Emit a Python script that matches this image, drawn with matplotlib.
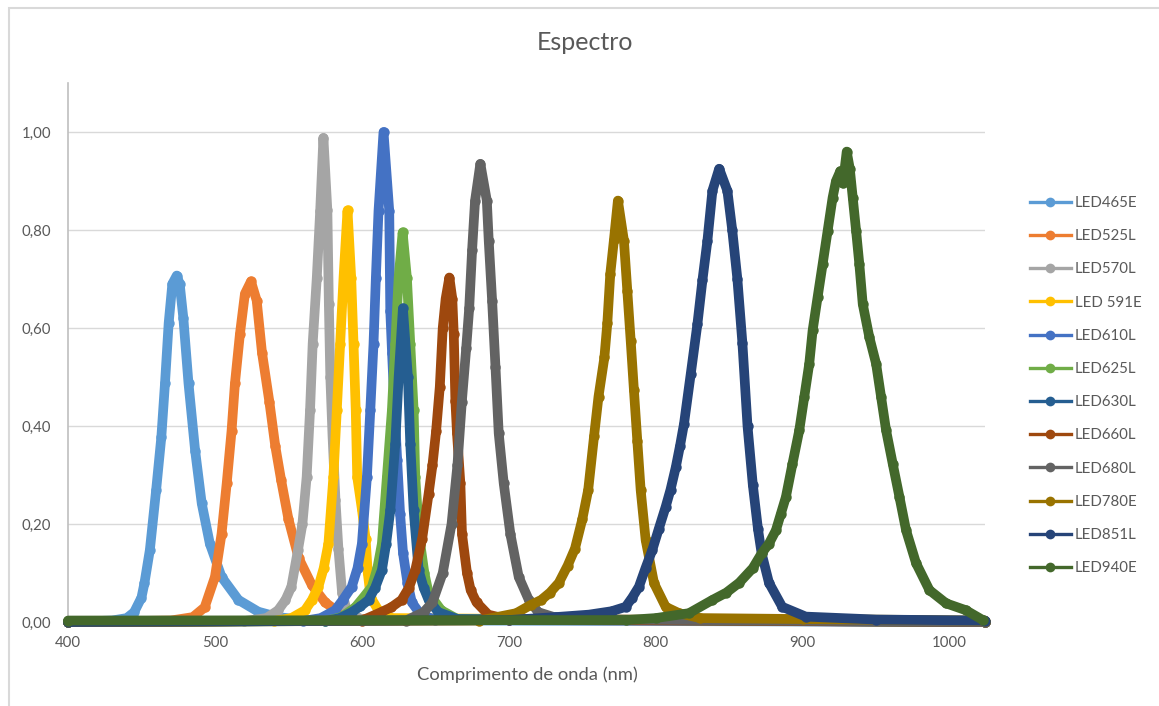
import matplotlib
matplotlib.use('Agg')
import matplotlib.pyplot as plt
from matplotlib.lines import Line2D
from matplotlib.patches import Rectangle
from matplotlib.ticker import FuncFormatter

plt.rcParams['font.family'] = ['Lato', 'DejaVu Sans']

# wavelength (nm) / normalised intensity
wl_465 = [400, 430, 440, 445, 450, 452, 455.7, 460, 463.5, 466, 468.5, 471, 474, 476, 478.5, 482,
          486.5, 491, 496.5, 504.5, 516, 529.5, 543, 560, 1024]
in_465 = [0.0, 0.003, 0.008, 0.02, 0.05, 0.079, 0.147, 0.27, 0.377, 0.487, 0.61, 0.69, 0.707, 0.69,
          0.62, 0.487, 0.35, 0.242, 0.16, 0.092, 0.045, 0.021, 0.01, 0.004, 0.0]

wl_525 = [400, 470, 485, 493, 500, 504.5, 508, 511.3, 513.6, 517, 520.4, 524.5, 528.4, 532, 537,
          541, 545, 550, 557, 566, 575, 585, 600, 1024]
in_525 = [0.0, 0.003, 0.01, 0.03, 0.092, 0.18, 0.283, 0.39, 0.487, 0.588, 0.67, 0.695, 0.656, 0.55,
          0.45, 0.36, 0.29, 0.21, 0.13, 0.075, 0.04, 0.018, 0.006, 0.0]

wl_570 = [400, 520, 535, 543, 548, 552, 556.5, 559.5, 562.4, 564.7, 566.5, 569.3, 571.6, 573.8,
          576.5, 577.5, 578.5, 580, 582, 584, 586.5, 590, 600, 1024]
in_570 = [0.0, 0.002, 0.008, 0.024, 0.045, 0.072, 0.147, 0.2, 0.296, 0.432, 0.568, 0.703, 0.839,
          0.988, 0.84, 0.65, 0.5, 0.38, 0.25, 0.15, 0.06, 0.02, 0.005, 0.0]

wl_591 = [400, 540, 552, 561.3, 566, 570.4, 574, 577.2, 580.6, 582.9, 585.2, 587.5, 590.2, 592.7,
          594.3, 595.8, 596.8, 600, 602.5, 604, 606, 611, 620, 1024]
in_591 = [0.0, 0.002, 0.008, 0.024, 0.045, 0.072, 0.11, 0.16, 0.296, 0.432, 0.568, 0.703, 0.84,
          0.703, 0.568, 0.432, 0.296, 0.23, 0.17, 0.1, 0.05, 0.025, 0.008, 0.0]

wl_610 = [400, 560, 572, 581.8, 587, 593.1, 597, 600, 603.4, 605.7, 607.9, 609.5, 611.3, 614.7,
          618.6, 619.3, 620.5, 622, 624, 626, 628, 631, 634, 640, 650, 1024]
in_610 = [0.0, 0.002, 0.008, 0.024, 0.045, 0.072, 0.11, 0.16, 0.296, 0.432, 0.568, 0.703, 0.839,
          1.0, 0.839, 0.635, 0.55, 0.45, 0.33, 0.22, 0.14, 0.08, 0.04, 0.015, 0.005, 0.0]

wl_625 = [400, 575, 586, 595.5, 601, 606.8, 610.5, 613.6, 617, 620.4, 622.7, 625, 627.7, 630.6,
          632.9, 635.2, 636.3, 638, 639.7, 642.5, 645.4, 654, 665, 1024]
in_625 = [0.0, 0.002, 0.01, 0.03, 0.05, 0.072, 0.11, 0.16, 0.296, 0.432, 0.568, 0.703, 0.795,
          0.703, 0.568, 0.432, 0.296, 0.22, 0.16, 0.1, 0.059, 0.024, 0.006, 0.0]

wl_630 = [400, 575, 585, 593, 599, 604.5, 609, 613.6, 616.5, 619.3, 622.7, 625, 627.9, 631.3,
          632.9, 635.2, 638.6, 642, 645.4, 652, 665, 1024]
in_630 = [0.0, 0.002, 0.008, 0.02, 0.032, 0.045, 0.07, 0.106, 0.16, 0.228, 0.364, 0.5, 0.64, 0.5,
          0.364, 0.228, 0.106, 0.07, 0.045, 0.02, 0.006, 0.0]

wl_660 = [400, 600, 613, 620, 627, 632, 636.3, 641, 645.4, 648, 650.5, 653, 655, 657, 659.5,
          661.5, 662.5, 663.6, 664.7, 667, 668.1, 671.5, 674, 678, 686, 700, 1024]
in_660 = [0.0, 0.003, 0.02, 0.03, 0.045, 0.07, 0.106, 0.17, 0.262, 0.32, 0.39, 0.48, 0.6, 0.66,
          0.703, 0.66, 0.588, 0.452, 0.385, 0.283, 0.18, 0.1, 0.065, 0.04, 0.015, 0.005, 0.0]

wl_680 = [400, 630, 642, 648, 655, 661, 665, 668, 671, 673, 675, 677, 680.6, 685, 686.3, 688.6,
          690.9, 693.1, 696.5, 701, 706.7, 713.6, 720, 735, 1024]
in_680 = [0.0, 0.003, 0.02, 0.04, 0.1, 0.2, 0.32, 0.45, 0.56, 0.64, 0.76, 0.86, 0.935, 0.86,
          0.778, 0.656, 0.52, 0.385, 0.283, 0.18, 0.092, 0.045, 0.02, 0.006, 0.0]

wl_780 = [400, 680, 705, 715, 722, 728, 734, 740, 745, 750, 754, 758, 761, 765, 767, 769, 771.5,
          774.2, 778.3, 780.6, 782.9, 785.1, 787.4, 789.7, 793.1, 798.8, 806.7, 815.8, 830, 900, 1024]
in_780 = [0.0, 0.003, 0.018, 0.035, 0.045, 0.06, 0.08, 0.115, 0.15, 0.21, 0.27, 0.38, 0.46, 0.54,
          0.61, 0.71, 0.78, 0.86, 0.778, 0.676, 0.574, 0.473, 0.37, 0.269, 0.167, 0.079, 0.031,
          0.018, 0.008, 0.006, 0.003]

wl_851 = [400, 700, 731.8, 754.5, 770, 779.5, 784, 788.5, 793, 797.6, 802, 806.7, 810, 813.6,
          816.5, 819.2, 823.8, 828.3, 831.7, 835.1, 838.5, 843.1, 848.7, 852, 855.5, 858.9, 862.4,
          866, 869.5, 872, 877, 886, 902, 950, 1024]
in_851 = [0.0, 0.004, 0.01, 0.015, 0.022, 0.031, 0.05, 0.072, 0.11, 0.147, 0.19, 0.235, 0.27,
          0.316, 0.36, 0.405, 0.507, 0.608, 0.697, 0.778, 0.88, 0.925, 0.88, 0.8, 0.7, 0.57, 0.4,
          0.28, 0.19, 0.14, 0.08, 0.031, 0.011, 0.005, 0.003]

wl_940 = [400, 780, 800, 822.6, 838.5, 848, 856.7, 866, 872, 877, 881.7, 885, 888.5, 893, 897.6,
          901, 904.4, 906.7, 910.1, 913.5, 916.9, 920.3, 922.6, 925.5, 927.3, 929.9, 932, 934,
          936.3, 938.5, 940.8, 945.3, 949.9, 953.3, 956.7, 961.2, 965.8, 970.3, 977.1, 986.2,
          997.6, 1011, 1022.5]
in_940 = [0.003, 0.004, 0.008, 0.018, 0.045, 0.06, 0.08, 0.11, 0.14, 0.16, 0.187, 0.22, 0.255,
          0.323, 0.391, 0.459, 0.527, 0.595, 0.663, 0.73, 0.798, 0.866, 0.9, 0.92, 0.895, 0.96,
          0.925, 0.866, 0.798, 0.73, 0.649, 0.581, 0.527, 0.459, 0.391, 0.323, 0.255, 0.187, 0.12,
          0.065, 0.038, 0.024, 0.004]

labels = ['LED465E', 'LED525L', 'LED570L', 'LED 591E', 'LED610L', 'LED625L',
          'LED630L', 'LED660L', 'LED680L', 'LED780E', 'LED851L', 'LED940E']
colors = ['#5B9BD5', '#ED7D31', '#A5A5A5', '#FFC000', '#4472C4', '#70AD47',
          '#255E91', '#9E480E', '#636363', '#997300', '#264478', '#43682B']
series = [(wl_465, in_465), (wl_525, in_525), (wl_570, in_570), (wl_591, in_591),
          (wl_610, in_610), (wl_625, in_625), (wl_630, in_630), (wl_660, in_660),
          (wl_680, in_680), (wl_780, in_780), (wl_851, in_851), (wl_940, in_940)]

W, H = 1159, 706
fig = plt.figure(figsize=(W / 100, H / 100), dpi=100)
ax = fig.add_axes([68 / W, 1 - 622 / H, (985 - 68) / W, (622 - 83) / H])

txt = '#595959'
for i, ((x, y), c) in enumerate(zip(series, colors)):
    ax.plot(x, y, color=c, lw=7, marker='o', ms=7.5, mew=0,
            solid_capstyle='round', solid_joinstyle='round',
            clip_on=False, zorder=3 + i)

ax.set_xlim(400, 1024)
ax.set_ylim(0, 1.1)
ax.set_xticks(range(400, 1001, 100))
ax.set_yticks([0, 0.2, 0.4, 0.6, 0.8, 1.0])
ax.yaxis.set_major_formatter(FuncFormatter(lambda v, p: f'{v:.2f}'.replace('.', ',')))
ax.tick_params(length=0, labelsize=10.8, colors=txt)
ax.tick_params(axis='x', pad=10)
ax.tick_params(axis='y', pad=12)
ax.grid(axis='y', color='#D9D9D9', lw=1)
ax.set_axisbelow(True)
for s in ['top', 'right']:
    ax.spines[s].set_visible(False)
for s in ['left', 'bottom']:
    ax.spines[s].set_color('#BFBFBF')
    ax.spines[s].set_linewidth(1.2)

fig.text(585 / W, 1 - 43 / H, 'Espectro', ha='center', va='center', fontsize=18, color=txt)
fig.text(527 / W, 1 - 675 / H, 'Comprimento de onda (nm)', ha='center', va='center',
         fontsize=13.2, color=txt)

handles = [Line2D([0], [0], color=c, lw=2.4, marker='o', ms=7, mew=0) for c in colors]
ax.legend(handles, labels, loc='upper left', bbox_to_anchor=(1030 / W, 1 - 196 / H),
          bbox_transform=fig.transFigure, frameon=False, fontsize=10.8, labelcolor=txt,
          handlelength=2.7, handletextpad=0.3, labelspacing=1.28, borderpad=0,
          borderaxespad=0)

fig.patches.append(Rectangle((9 / W, -0.02), 1.0, 1 - 8 / H + 0.02, fill=False,
                             edgecolor='#D9D9D9', lw=1.5, transform=fig.transFigure))

fig.savefig('out.png', dpi=100)
